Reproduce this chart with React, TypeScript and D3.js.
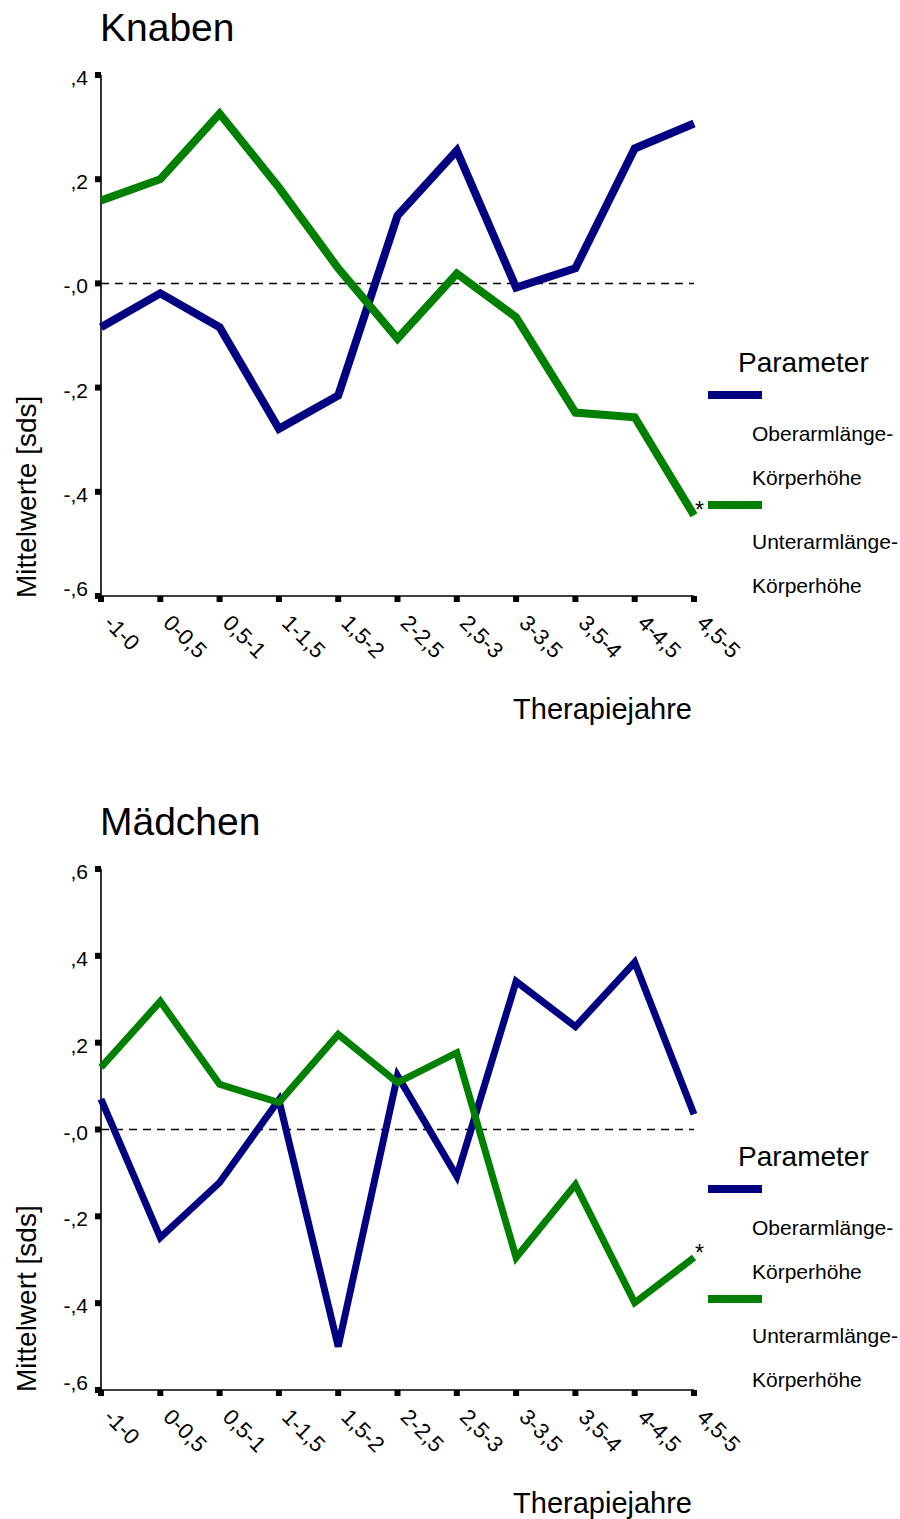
import { useRef, useEffect } from 'react';
import * as d3 from 'd3';

// Therapy-year periods shared by both panels
const periods = ['-1-0', '0-0,5', '0,5-1', '1-1,5', '1,5-2', '2-2,5', '2,5-3', '3-3,5', '3,5-4', '4-4,5', '4,5-5'];

// Knaben (boys)
const knabenOberarm = [-0.084, -0.019, -0.084, -0.279, -0.215, 0.13, 0.255, -0.008, 0.029, 0.259, 0.307];
const knabenUnterarm = [0.159, 0.2, 0.326, 0.184, 0.029, -0.106, 0.019, -0.065, -0.248, -0.257, -0.445];
const knabenTicks = [0.4, 0.2, 0, -0.2, -0.4, -0.6];
const knabenTickLabels = [',4', ',2', '-,0', '-,2', '-,4', '-,6'];

// Mädchen (girls)
const maedchenOberarm = [0.07, -0.249, -0.122, 0.068, -0.5, 0.124, -0.108, 0.341, 0.237, 0.385, 0.035];
const maedchenUnterarm = [0.143, 0.295, 0.104, 0.062, 0.219, 0.108, 0.177, -0.295, -0.127, -0.399, -0.295];
const maedchenTicks = [0.6, 0.4, 0.2, 0, -0.2, -0.4, -0.6];
const maedchenTickLabels = [',6', ',4', ',2', '-,0', '-,2', '-,4', '-,6'];

const seriesNames = ['Oberarmlänge-|Körperhöhe', 'Unterarmlänge-|Körperhöhe'];
const seriesColors = ['#000080', '#008000'];

const FONT = "'Liberation Sans', Arial, Helvetica, sans-serif";

interface PanelProps {
  title: string;
  yLabel: string;
  top: number;
  ticks: number[];
  tickLabels: string[];
  series: number[][];
  strokeWidth: number;
}

function Panel({ title, yLabel, top, ticks, tickLabels, series, strokeWidth }: PanelProps) {
  const gRef = useRef<SVGGElement>(null);

  useEffect(() => {
    if (!gRef.current) return;
    const g = d3.select(gRef.current);
    g.selectAll('*').remove();

    const left = 101, right = 694;
    const plotTop = top + 75, plotBottom = top + 596;

    const x = d3.scalePoint<string>().domain(periods).range([left, right]);
    const yMin = d3.min(ticks)!;
    const y = d3.scaleLinear()
      .domain([yMin, d3.max(ticks)!])
      .range([plotBottom, plotTop]);

    // Title
    g.append('text')
      .attr('x', 100).attr('y', top + 41)
      .attr('font-size', 39).attr('font-family', FONT)
      .text(title);

    // Zero reference
    g.append('line')
      .attr('x1', left).attr('x2', right)
      .attr('y1', y(0)).attr('y2', y(0))
      .attr('stroke', '#000').attr('stroke-width', 1.5)
      .attr('stroke-dasharray', '8,6');

    // Axes
    g.append('line')
      .attr('x1', left).attr('x2', left)
      .attr('y1', plotTop).attr('y2', plotBottom)
      .attr('stroke', '#000').attr('stroke-width', 1.6);
    g.append('line')
      .attr('x1', left).attr('x2', right)
      .attr('y1', plotBottom).attr('y2', plotBottom)
      .attr('stroke', '#000').attr('stroke-width', 1.6);

    // y ticks (lowest label is pulled up above the x axis)
    ticks.forEach((t, i) => {
      g.append('rect')
        .attr('x', left - 6).attr('y', y(t) - 3)
        .attr('width', 6).attr('height', 6)
        .attr('fill', '#000');
      g.append('text')
        .attr('x', 88).attr('y', y(t) + (t === yMin ? 0 : 10))
        .attr('text-anchor', 'end')
        .attr('font-size', 21).attr('font-family', FONT)
        .text(tickLabels[i]);
    });

    // x ticks
    periods.forEach(p => {
      g.append('rect')
        .attr('x', x(p)! - 3).attr('y', plotBottom)
        .attr('width', 6).attr('height', 6)
        .attr('fill', '#000');
      g.append('text')
        .attr('transform', `translate(${x(p)! + 13},${plotBottom + 17}) rotate(45)`)
        .attr('dy', '0.72em')
        .attr('font-size', 22).attr('font-family', FONT)
        .text(p);
    });

    // Axis titles
    g.append('text')
      .attr('transform', `translate(36,${plotBottom + 2}) rotate(-90)`)
      .attr('font-size', 28).attr('font-family', FONT)
      .text(yLabel);
    g.append('text')
      .attr('x', 692).attr('y', plotBottom + 123)
      .attr('text-anchor', 'end')
      .attr('font-size', 29).attr('font-family', FONT)
      .text('Therapiejahre');

    // Lines
    const line = d3.line<number>()
      .x((_, i) => x(periods[i])!)
      .y(d => y(d));

    series.forEach((s, i) => {
      g.append('path')
        .datum(s)
        .attr('fill', 'none')
        .attr('stroke', seriesColors[i])
        .attr('stroke-width', strokeWidth)
        .attr('stroke-linejoin', 'miter')
        .attr('d', line);
    });

    // significance marker on last green point
    const lastVal = series[1][series[1].length - 1];
    g.append('text')
      .attr('x', right + 1).attr('y', y(lastVal) + 3)
      .attr('font-size', 23).attr('font-family', FONT)
      .text('*');

    // Legend
    g.append('text')
      .attr('x', 738).attr('y', plotBottom - 224)
      .attr('font-size', 28).attr('font-family', FONT)
      .text('Parameter');

    const legendRows = [
      { line: -201, texts: [-155, -111] },
      { line: -91, texts: [-47, -3] },
    ];
    legendRows.forEach((r, i) => {
      g.append('line')
        .attr('x1', 708).attr('x2', 762)
        .attr('y1', plotBottom + r.line).attr('y2', plotBottom + r.line)
        .attr('stroke', seriesColors[i]).attr('stroke-width', 8);
      seriesNames[i].split('|').forEach((t, j) => {
        g.append('text')
          .attr('x', 752).attr('y', plotBottom + r.texts[j])
          .attr('font-size', 21).attr('font-family', FONT)
          .text(t);
      });
    });
  }, [title, yLabel, top, ticks, tickLabels, series, strokeWidth]);

  return <g ref={gRef} />;
}

export default function App() {
  return (
    <div style={{ position: 'absolute', left: 0, top: 0 }}>
      <svg width={900} height={1519} style={{ display: 'block', background: '#fff' }}>
        <Panel
          title="Knaben"
          yLabel="Mittelwerte [sds]"
          top={0}
          ticks={knabenTicks}
          tickLabels={knabenTickLabels}
          series={[knabenOberarm, knabenUnterarm]}
          strokeWidth={8}
        />
        <Panel
          title="Mädchen"
          yLabel="Mittelwert [sds]"
          top={794}
          ticks={maedchenTicks}
          tickLabels={maedchenTickLabels}
          series={[maedchenOberarm, maedchenUnterarm]}
          strokeWidth={7}
        />
      </svg>
    </div>
  );
}
